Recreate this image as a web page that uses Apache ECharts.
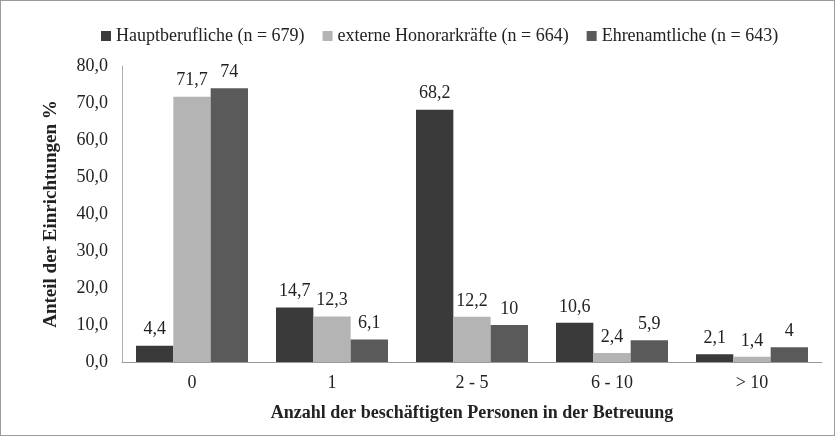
<!DOCTYPE html>
<html>
<head>
<meta charset="utf-8">
<script src="https://cdn.jsdelivr.net/npm/echarts@6/dist/echarts.min.js"></script>
<style>
  html, body { margin: 0; padding: 0; background: #fff; }
  #chart { width: 833px; height: 434px; border: 1px solid #9a9a9a; }
</style>
</head>
<body>
<div id="chart"></div>
<script>
const categories = ["0", "1", "2 - 5", "6 - 10", "> 10"];
const hauptberufliche = [4.4, 14.7, 68.2, 10.6, 2.1];
const honorarkraefte = [71.7, 12.3, 12.2, 2.4, 1.4];
const ehrenamtliche = [74, 6.1, 10, 5.9, 4];
const seriesNames = [
  "Hauptberufliche (n = 679)",
  "externe Honorarkräfte (n = 664)",
  "Ehrenamtliche (n = 643)"
];

const font = "Liberation Serif, Times New Roman, serif";
const fmt = v => String(v).replace(".", ",");

function bar(name, data, color) {
  return {
    name: name,
    type: "bar",
    data: data,
    barGap: "0%",
    barCategoryGap: "20%",
    itemStyle: { color: color },
    label: {
      show: true,
      position: "top",
      distance: 7,
      fontFamily: font,
      fontSize: 18,
      color: "#222",
      formatter: p => fmt(p.value)
    }
  };
}

const chart = echarts.init(document.getElementById("chart"));
chart.setOption({
  animation: false,
  textStyle: { fontFamily: font },
  color: ["#3a3a3a", "#b4b4b4", "#5a5a5a"],
  legend: {
    top: 21,
    left: 95,
    icon: "rect",
    itemWidth: 10,
    itemHeight: 10,
    itemGap: 18,
    selectedMode: false,
    textStyle: { fontFamily: font, fontSize: 18, color: "#222" }
  },
  grid: { left: 121, right: 12, top: 65, bottom: 73 },
  xAxis: {
    type: "category",
    data: categories,
    name: "Anzahl der beschäftigten Personen in der Betreuung",
    nameLocation: "middle",
    nameGap: 42,
    nameTextStyle: { fontFamily: font, fontSize: 18, fontWeight: "bold", color: "#222" },
    axisLine: { lineStyle: { color: "#9a9a9a" } },
    axisTick: { show: false },
    axisLabel: { fontFamily: font, fontSize: 18, color: "#222", margin: 12 }
  },
  yAxis: {
    type: "value",
    min: 0,
    max: 80,
    interval: 10,
    name: "Anteil der Einrichtungen %",
    nameLocation: "middle",
    nameGap: 61,
    nameTextStyle: { fontFamily: font, fontSize: 19, fontWeight: "bold", color: "#222" },
    axisLine: { show: true, lineStyle: { color: "#b0b0b0" } },
    axisTick: { show: false },
    splitLine: { show: false },
    axisLabel: {
      fontFamily: font,
      fontSize: 18,
      color: "#222",
      margin: 14,
      formatter: v => v.toFixed(1).replace(".", ",")
    }
  },
  series: [
    bar(seriesNames[0], hauptberufliche, "#3a3a3a"),
    bar(seriesNames[1], honorarkraefte, "#b4b4b4"),
    bar(seriesNames[2], ehrenamtliche, "#5a5a5a")
  ]
});
</script>
</body>
</html>
